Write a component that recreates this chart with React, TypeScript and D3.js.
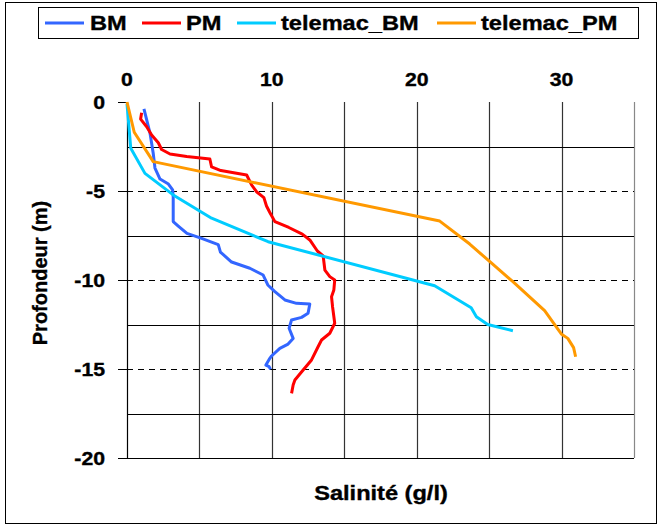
import React from "react";
import * as d3 from "d3";

type Pt = [number, number];

const seriesNames = ["BM", "PM", "telemac_BM", "telemac_PM"];

// [salinity g/l, depth m]
const bmData: Pt[] = [
  [1.17, -0.39], [1.36, -1.01], [1.59, -1.76], [1.81, -2.88], [1.93, -3.71],
  [2.28, -4.33], [2.86, -4.61], [3.15, -4.94], [3.19, -5.34], [3.19, -6.72],
  [3.54, -6.97], [4.14, -7.38], [5.15, -7.66], [6.3, -8.01], [6.45, -8.43],
  [7.22, -8.99], [8.48, -9.34], [9.4, -9.72], [9.72, -10.28], [10.21, -10.65],
  [10.9, -11.12], [11.7, -11.31], [12.62, -11.35], [12.5, -11.87], [12.05, -12.1],
  [11.36, -12.25], [11.19, -12.71], [11.47, -13.28], [11.12, -13.6], [10.55, -13.84],
  [9.98, -14.27], [9.86, -14.4], [9.59, -14.78], [9.81, -14.87], [9.91, -15.02],
];

const pmData: Pt[] = [
  [1.01, -0.6], [0.94, -0.96], [1.36, -1.39], [1.7, -1.85], [2.16, -2.29],
  [2.39, -2.67], [2.97, -2.92], [4.12, -3.06], [5.72, -3.2], [5.84, -3.65],
  [6.48, -3.85], [8.26, -4.1], [8.6, -4.66], [8.94, -5.04], [9.45, -5.37],
  [9.63, -5.84], [9.86, -6.21], [10.21, -6.72], [11.17, -7.05], [12.1, -7.42],
  [12.62, -7.75], [13.14, -8.37], [13.54, -8.64], [13.66, -9.44], [14.0, -9.81],
  [14.34, -10.0], [14.28, -10.56], [14.12, -10.94], [14.19, -11.5], [14.34, -12.43],
  [14.0, -12.99], [13.43, -13.37], [13.19, -13.75], [12.74, -14.49], [12.16, -15.06],
  [11.59, -15.62], [11.47, -15.9], [11.36, -16.37],
];

const telemacBmData: Pt[] = [
  [0, -0.1], [0.26, -2.6], [1.24, -4.01], [3.19, -5.22], [5.84, -6.53],
  [9.74, -7.85], [21.24, -10.32], [23.76, -11.56], [24.12, -12.06], [24.9, -12.5],
  [26.64, -12.85],
];

const telemacPmData: Pt[] = [
  [0, 0], [0.5, -1.7], [1.81, -3.35], [21.59, -6.69], [23.66, -7.98],
  [25.03, -8.96], [26.62, -10.08], [28.83, -11.72], [29.98, -13.03], [30.43, -13.28],
  [30.83, -13.8], [30.97, -14.31],
];

const xTicks = [0, 10, 20, 30];
const yTicks = [0, -5, -10, -15, -20];
const xGrid = [5, 10, 15, 20, 25, 30, 35];
const ySolidGrid = [-2.5, -7.5, -12.5, -17.5];
const yDashedGrid = [-5, -10, -15];

const colors = ["#3366FF", "#FF0000", "#00CCFF", "#FF9900"];

const W = 660;
const H = 529;
const FONT = "'Liberation Sans', Arial, sans-serif";
const SX = 1.18;

export default function App() {
  const x = d3.scaleLinear().domain([0, 35]).range([127, 634]);
  const y = d3.scaleLinear().domain([0, -20]).range([102, 458]);
  const line = d3
    .line<Pt>()
    .x((d) => x(d[0]))
    .y((d) => y(d[1]));
  const all = [bmData, pmData, telemacBmData, telemacPmData];
  const cy = (v: number) => Math.round(y(v)) + 0.5;
  const cx = (v: number) => Math.round(x(v)) + 0.5;

  const legendItems = [
    { lx: 45, tx: 90 },
    { lx: 142, tx: 186 },
    { lx: 237, tx: 281 },
    { lx: 437, tx: 481 },
  ];

  const textStyle = { stroke: "#000", strokeWidth: 0.35 };

  return (
    <svg
      width={W}
      height={H}
      style={{ position: "absolute", left: 0, top: 0, background: "#fff" }}
      fontFamily={FONT}
    >
      <rect x={0} y={0} width={W} height={H} fill="#fff" />
      <rect x={5.5} y={2.5} width={651} height={521} fill="none" stroke="#000" strokeWidth={1} />

      {/* grid */}
      {xGrid.map((v) => (
        <line
          key={"xg" + v}
          x1={cx(v)}
          x2={cx(v)}
          y1={y(0)}
          y2={y(-20)}
          stroke={v === 35 ? "#888" : "#333"}
          strokeWidth={1.2}
        />
      ))}
      {ySolidGrid.map((v) => (
        <line key={"ys" + v} x1={x(0)} x2={x(35)} y1={cy(v)} y2={cy(v)} stroke="#000" strokeWidth={1} />
      ))}
      {yDashedGrid.map((v) => (
        <line
          key={"yd" + v}
          x1={x(0)}
          x2={x(35)}
          y1={cy(v)}
          y2={cy(v)}
          stroke="#000"
          strokeWidth={1}
          strokeDasharray="6,5"
        />
      ))}
      {/* axes */}
      <line x1={x(0)} x2={x(35)} y1={cy(-20)} y2={cy(-20)} stroke="#000" strokeWidth={1} />
      <line x1={cx(0)} x2={cx(0)} y1={y(0)} y2={y(-20)} stroke="#000" strokeWidth={1.2} />
      {yTicks.map((v) => (
        <line key={"yt" + v} x1={x(0) - 9} x2={x(0)} y1={cy(v)} y2={cy(v)} stroke="#000" strokeWidth={1} />
      ))}
      {yTicks.map((v) => (
        <text
          key={"yl" + v}
          transform={`translate(105,${y(v) + 6.5}) scale(${SX},1)`}
          textAnchor="end"
          fontSize={18}
          fontWeight="bold"
          style={textStyle}
        >
          {v}
        </text>
      ))}
      {xTicks.map((v) => (
        <text
          key={"xl" + v}
          transform={`translate(${x(v)},86) scale(${SX},1)`}
          textAnchor="middle"
          fontSize={18}
          fontWeight="bold"
          style={textStyle}
        >
          {v}
        </text>
      ))}

      {/* series */}
      {all.map((data, i) => (
        <path
          key={seriesNames[i]}
          d={line(data) || ""}
          fill="none"
          stroke={colors[i]}
          strokeWidth={3}
          strokeLinejoin="round"
        />
      ))}

      {/* axis titles */}
      <text
        transform={`translate(381,500) scale(${SX},1)`}
        textAnchor="middle"
        fontSize={20}
        fontWeight="bold"
        style={textStyle}
      >
        Salinité (g/l)
      </text>
      <text
        transform={`translate(47,273) rotate(-90)`}
        textAnchor="middle"
        fontSize={20}
        fontWeight="bold"
        style={textStyle}
      >
        Profondeur (m)
      </text>

      {/* legend */}
      <rect x={38.5} y={7.5} width={600} height={31} fill="#fff" stroke="#000" strokeWidth={1} />
      {seriesNames.map((n, i) => (
        <g key={"lg" + n}>
          <line
            x1={legendItems[i].lx}
            x2={legendItems[i].lx + 39}
            y1={23}
            y2={23}
            stroke={colors[i]}
            strokeWidth={3}
          />
          <text
            transform={`translate(${legendItems[i].tx},30) scale(${SX},1)`}
            fontSize={20}
            fontWeight="bold"
            style={textStyle}
          >
            {n}
          </text>
        </g>
      ))}
    </svg>
  );
}
